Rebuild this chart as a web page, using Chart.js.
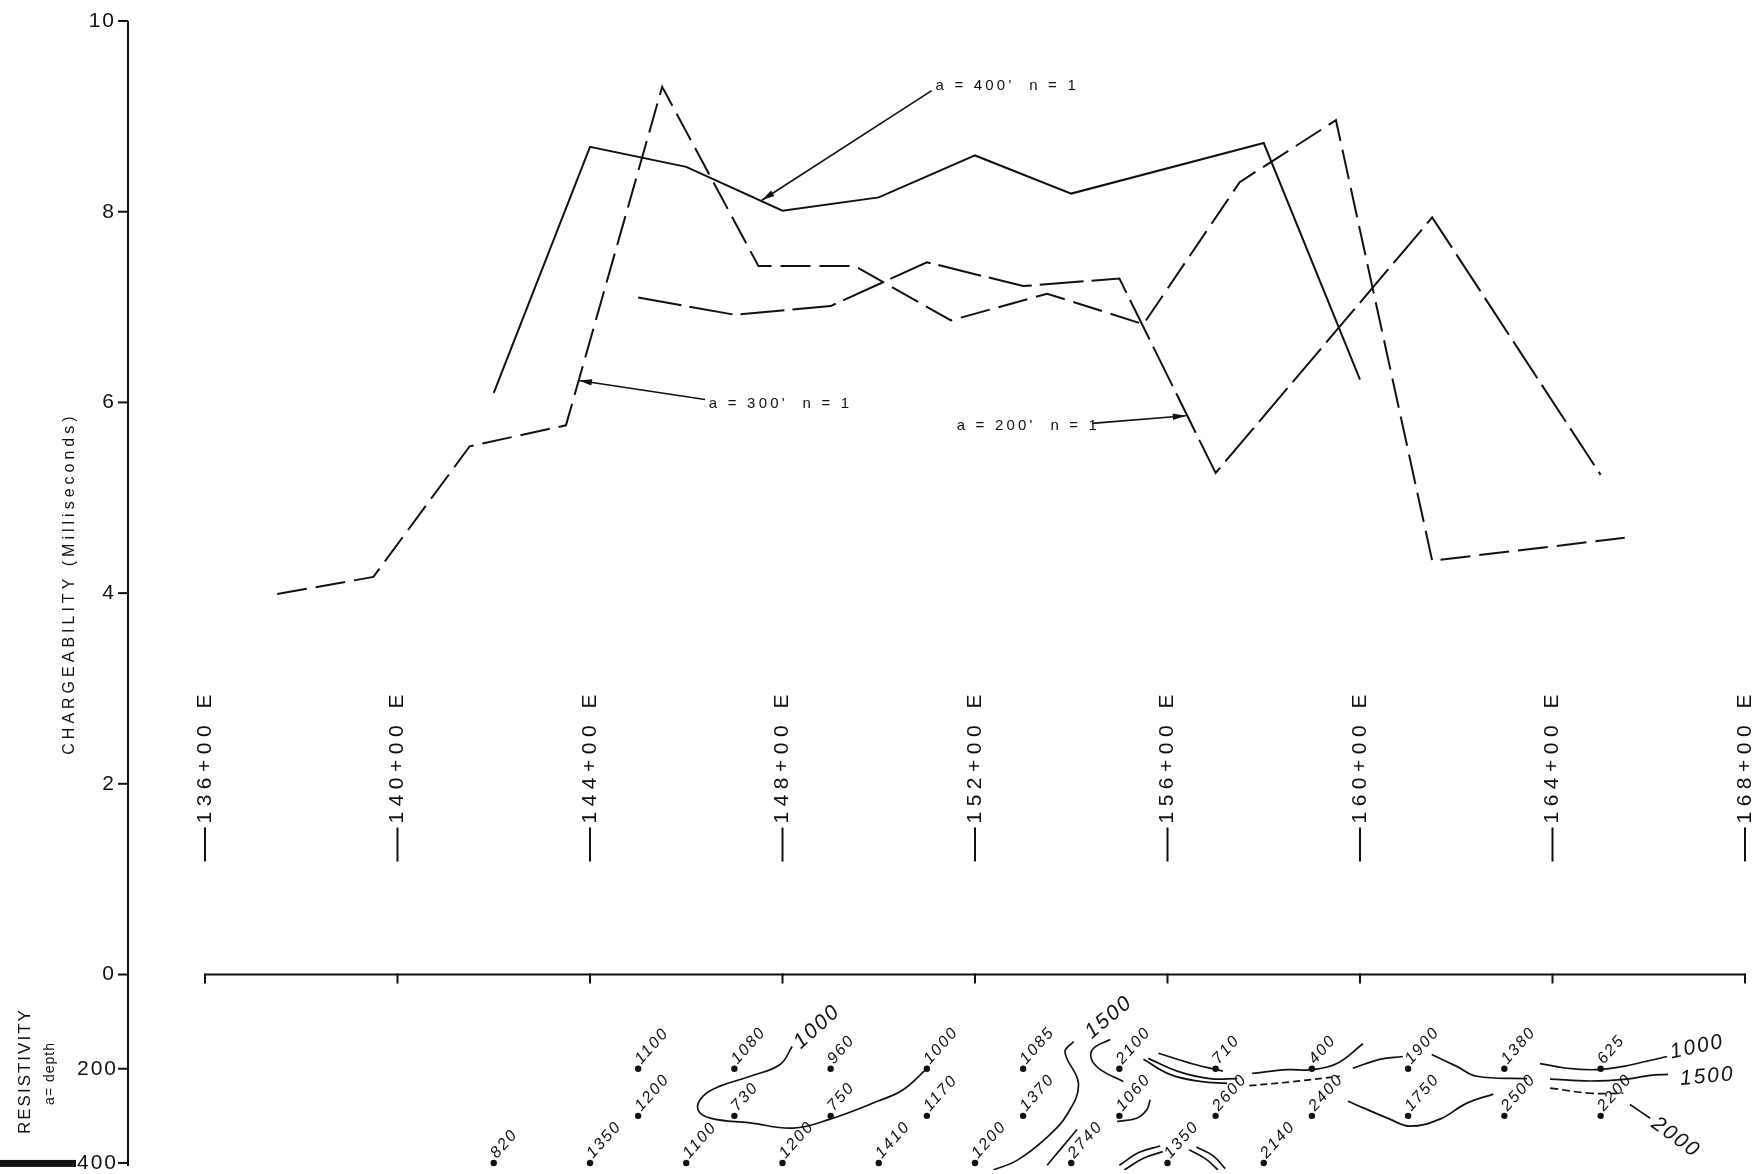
<!DOCTYPE html>
<html>
<head>
<meta charset="utf-8">
<script src="https://cdn.jsdelivr.net/npm/chart.js@4.4.1/dist/chart.umd.min.js"></script>
<style>
  html, body { margin: 0; padding: 0; background: #ffffff; }
  #wrap { position: relative; width: 1755px; height: 1174px; }
</style>
</head>
<body>
<div id="wrap"><canvas id="c" width="1755" height="1174"></canvas></div>
<script>
// ---- Profile stations (hundreds of feet east) and axis ticks ----
const stationTicks = [136, 140, 144, 148, 152, 156, 160, 164, 168];
const chargeTicks = [0, 2, 4, 6, 8, 10];
const depthTicks = [0, 200, 400];

// ---- Chargeability (milliseconds), dipole spacing a, n = 1 ----
const a400Stations = [142, 144, 146, 148, 150, 152, 154, 158, 160];
const a400Values   = [6.10, 8.68, 8.47, 8.01, 8.15, 8.59, 8.19, 8.72, 6.24];

const a300Stations = [137.5, 139.5, 141.5, 143.5, 145.5, 147.5, 149.5, 151.5, 153.5, 155.5, 157.5, 159.5, 161.5, 165.5];
const a300Values   = [3.99, 4.17, 5.54, 5.76, 9.31, 7.43, 7.43, 6.86, 7.14, 6.82, 8.31, 8.96, 4.34, 4.58];

const a200Stations = [145, 147, 149, 151, 153, 155, 157, 161.5, 165];
const a200Values   = [7.10, 6.92, 7.01, 7.47, 7.22, 7.30, 5.26, 7.94, 5.24];

// ---- Apparent resistivity, plotted at depth = a ----
const res200Stations = [145, 147, 149, 151, 153, 155, 157, 159, 161, 163, 165];
const res200Values   = [1100, 1080, 960, 1000, 1085, 2100, 710, 400, 1900, 1380, 625];
const res300Stations = [145, 147, 149, 151, 153, 155, 157, 159, 161, 163, 165];
const res300Values   = [1200, 730, 750, 1170, 1370, 1060, 2600, 2400, 1750, 2500, 2200];
const res400Stations = [142, 144, 146, 148, 150, 152, 154, 156, 158];
const res400Values   = [820, 1350, 1100, 1200, 1410, 1200, 2740, 1350, 2140];

// ---- Resistivity contours, [station, depth] ----
const contourWest1000 = [[148.2,153],[147.95,191],[147.33,216],[146.7,237],[146.35,258],[146.24,286],[146.5,305],[147.33,315],[148.22,326],[148.99,307],[150.0,268],[150.5,245],[151.0,200]];
const contourWest1500 = [[154.05,142],[153.87,165],[154.15,232],[153.92,296],[153.5,345],[152.88,394],[152.38,415]];
const contourArc2100  = [[154.81,138],[154.46,157],[154.42,180],[154.62,203],[155.08,227]];
const contourArc1060  = [[155.64,266],[155.57,287],[155.36,305],[154.95,312]];
const contour2740     = [[153.5,405],[153.8,368],[154.12,329]];
const contourNorthA   = [[155.81,167],[156.53,190],[157.15,205]];
const contourNorthB   = [[155.6,178],[156.2,205],[156.88,221],[157.45,221]];
const contourNorthC   = [[155.5,180],[156.05,212],[156.68,227],[157.24,231]];
const contour400      = [[157.76,210],[158.5,202],[159.0,202],[159.52,189],[160.06,147]];
const contour2400     = [[157.7,236],[158.55,228],[159.58,216]];
const contour1750     = [[159.75,269],[160.62,307],[161.04,322],[161.66,307],[162.22,273],[162.77,254]];
const contour1900West = [[159.85,199],[160.41,180],[160.89,174]];
const contour1900East = [[161.49,170],[162.01,195],[162.43,216],[163.47,221]];
const contourEast1000 = [[163.74,189],[164.3,199],[164.92,202],[165.47,195],[166.38,174]];
const contourEast1500 = [[163.95,222],[164.78,226],[165.55,222],[166.03,214],[166.4,212]];
const contourEast1500b= [[163.95,241],[164.78,252],[165.47,252]];
const contourEast2000 = [[165.61,276],[166.03,305]];
const contour1350WestA= [[155.0,405],[155.4,378],[155.85,364]];
const contour1350WestB= [[155.1,415],[155.5,390],[155.9,376]];
const contour1350EastA= [[156.45,372],[156.8,392],[157.05,415]];
const contour1350EastB= [[156.6,366],[156.95,385],[157.2,412]];

// contour values written on the section: text, station, depth, angle (deg)
const contourLabelText     = ['1000', '1500', '1000', '1500', '2000'];
const contourLabelStations = [148.3, 154.35, 166.45, 166.65, 166.1];
const contourLabelDepths   = [150, 128, 166, 222, 312];
const contourLabelAngles   = [-42, -40, -12, -5, 36];

// ---- Series call-outs: text anchor, arrow start, arrow tip (station, ms) ----
const calloutText     = ["a = 400'  n = 1", "a = 300'  n = 1", "a = 200'  n = 1"];
const calloutTextAt   = [[151.18, 9.32], [146.47, 5.99], [151.62, 5.75]];
const calloutFrom     = [[151.1, 9.27], [146.39, 6.03], [154.43, 5.78]];
const calloutTip      = [[147.57, 8.12], [143.77, 6.23], [156.38, 5.86]];

// ---- Frame constants ----
const INK = '#111111';
const Y_MAX = 10, Y_MIN = -2.05;
const DEPTH_BOTTOM = 415;
const DEPTH_TOP = DEPTH_BOTTOM * Y_MAX / Y_MIN;   // aligns depth 0 with chargeability 0
const LETTER = '"Liberation Sans", Arial, sans-serif';

const pts = (xs, ys) => xs.map((s, i) => ({ x: s, y: ys[i] }));
const pairs = arr => arr.map(p => ({ x: p[0], y: p[1] }));

const profile = (label, xs, ys, dash) => ({
  label, data: pts(xs, ys), yAxisID: 'y',
  borderColor: INK, borderWidth: 2, borderDash: dash,
  pointRadius: 0, tension: 0, fill: false
});
const contour = (arr, dash) => ({
  data: pairs(arr), yAxisID: 'yd',
  borderColor: INK, borderWidth: 1.7, borderDash: dash || [],
  pointRadius: 0, tension: 0.4, fill: false
});
const dots = (xs, vals, depth) => ({
  data: xs.map(s => ({ x: s, y: depth })), values: vals, yAxisID: 'yd',
  showLine: false, pointRadius: 3.2, pointBackgroundColor: INK, pointBorderWidth: 0,
  isResistivity: true
});

const datasets = [
  profile("a=400' n=1", a400Stations, a400Values, []),
  profile("a=300' n=1", a300Stations, a300Values, [30, 9]),
  profile("a=200' n=1", a200Stations, a200Values, [44, 8]),
  contour(contourWest1000), contour(contourWest1500), contour(contourArc2100),
  contour(contourArc1060), contour(contour2740), contour(contourNorthA),
  contour(contourNorthB), contour(contourNorthC), contour(contour400),
  contour(contour2400, [7, 4]), contour(contour1750), contour(contour1900West),
  contour(contour1900East), contour(contourEast1000), contour(contourEast1500),
  contour(contourEast1500b, [8, 4]), contour(contourEast2000),
  contour(contour1350WestA), contour(contour1350WestB),
  contour(contour1350EastA), contour(contour1350EastB),
  dots(res200Stations, res200Values, 200),
  dots(res300Stations, res300Values, 300),
  dots(res400Stations, res400Values, 400)
];

function drawText(ctx, str, x, y, o) {
  ctx.save();
  ctx.translate(x, y);
  if (o.angle) ctx.rotate(o.angle * Math.PI / 180);
  ctx.font = o.font;
  ctx.fillStyle = INK;
  ctx.textAlign = o.align || 'left';
  ctx.textBaseline = o.baseline || 'middle';
  ctx.letterSpacing = (o.spacing || 0) + 'px';
  ctx.fillText(str, 0, 0);
  ctx.restore();
}
function seg(ctx, x1, y1, x2, y2) {
  ctx.beginPath(); ctx.moveTo(x1, y1); ctx.lineTo(x2, y2); ctx.stroke();
}

const framePlugin = {
  id: 'frame',
  beforeDatasetsDraw(chart) {
    const { ctx, scales: { x, y, yd } } = chart;
    const y0 = y.getPixelForValue(0);
    const axisX = x.getPixelForValue(136) - 77;
    ctx.save();
    ctx.strokeStyle = INK; ctx.lineWidth = 2;

    // left axis: chargeability above, depth below
    seg(ctx, axisX, y.getPixelForValue(Y_MAX), axisX, yd.getPixelForValue(400) + 3);
    chargeTicks.forEach(v => {
      const py = y.getPixelForValue(v);
      seg(ctx, axisX - 10, py, axisX, py);
      drawText(ctx, String(v), axisX - 12, py, { font: '21px ' + LETTER, align: 'right', spacing: 2 });
    });
    depthTicks.forEach(d => {
      if (d === 0) return;
      const py = yd.getPixelForValue(d);
      seg(ctx, axisX - 10, py, axisX, py);
      drawText(ctx, String(d), axisX - 10, py, { font: '21px ' + LETTER, align: 'right', spacing: 2 });
    });

    // station base line with tick marks
    const xl = x.getPixelForValue(stationTicks[0]);
    const xr = x.getPixelForValue(stationTicks[stationTicks.length - 1]);
    seg(ctx, xl, y0, xr, y0);
    stationTicks.forEach(s => {
      const px = x.getPixelForValue(s);
      seg(ctx, px, y0 - 1, px, y0 + 9);
      // station label with its leading dash
      seg(ctx, px, y0 - 147, px, y0 - 113);
      drawText(ctx, s + '+00 E', px, y0 - 151, { font: '21px ' + LETTER, angle: -90, spacing: 5.5 });
    });

    // axis titles
    drawText(ctx, 'CHARGEABILITY (Milliseconds)', 70, y.getPixelForValue(4.1),
      { font: '16px ' + LETTER, angle: -90, align: 'center', spacing: 4 });
    drawText(ctx, 'RESISTIVITY', 25, yd.getPixelForValue(205),
      { font: '17px ' + LETTER, angle: -90, align: 'center', spacing: 2 });
    drawText(ctx, 'a= depth', 50, yd.getPixelForValue(210),
      { font: '14px ' + LETTER, angle: -90, align: 'center', spacing: 1 });

    // registration bar at the lower left edge
    ctx.fillStyle = INK;
    ctx.fillRect(0, yd.getPixelForValue(400) - 3, 76, 7);
    ctx.restore();
  },
  afterDatasetsDraw(chart) {
    const { ctx, scales: { x, y, yd } } = chart;
    ctx.save();
    ctx.strokeStyle = INK; ctx.fillStyle = INK; ctx.lineWidth = 1.6;

    // series call-outs with arrows
    calloutText.forEach((t, i) => {
      const tx = x.getPixelForValue(calloutTextAt[i][0]);
      const ty = y.getPixelForValue(calloutTextAt[i][1]);
      drawText(ctx, t, tx, ty, { font: '15px ' + LETTER, spacing: 3.2 });
      const fx = x.getPixelForValue(calloutFrom[i][0]), fy = y.getPixelForValue(calloutFrom[i][1]);
      const px = x.getPixelForValue(calloutTip[i][0]), py = y.getPixelForValue(calloutTip[i][1]);
      seg(ctx, fx, fy, px, py);
      const ang = Math.atan2(py - fy, px - fx);
      ctx.beginPath();
      ctx.moveTo(px, py);
      ctx.lineTo(px - 13 * Math.cos(ang) + 3.2 * Math.sin(ang), py - 13 * Math.sin(ang) - 3.2 * Math.cos(ang));
      ctx.lineTo(px - 13 * Math.cos(ang) - 3.2 * Math.sin(ang), py - 13 * Math.sin(ang) + 3.2 * Math.cos(ang));
      ctx.closePath(); ctx.fill();
    });

    // resistivity values beside their points
    chart.data.datasets.forEach(ds => {
      if (!ds.isResistivity) return;
      ds.data.forEach((p, i) => {
        const px = x.getPixelForValue(p.x), py = yd.getPixelForValue(p.y);
        drawText(ctx, String(ds.values[i]), px + 3, py - 4,
          { font: 'italic 16px ' + LETTER, angle: -48, spacing: 2, baseline: 'alphabetic' });
      });
    });

    // contour values
    contourLabelText.forEach((t, i) => {
      drawText(ctx, t, x.getPixelForValue(contourLabelStations[i]), yd.getPixelForValue(contourLabelDepths[i]),
        { font: 'italic 21px ' + LETTER, angle: contourLabelAngles[i], spacing: 2 });
    });
    ctx.restore();
  }
};

new Chart(document.getElementById('c'), {
  type: 'line',
  data: { datasets },
  options: {
    responsive: false,
    animation: false,
    devicePixelRatio: 1,
    layout: { padding: { left: 205, right: 10, top: 21, bottom: 0 } },
    plugins: { legend: { display: false }, tooltip: { enabled: false } },
    scales: {
      x:  { type: 'linear', min: 136, max: 168, display: false },
      y:  { type: 'linear', min: Y_MIN, max: Y_MAX, display: false },
      yd: { type: 'linear', min: DEPTH_TOP, max: DEPTH_BOTTOM, reverse: true, display: false }
    }
  },
  plugins: [framePlugin]
});
</script>
</body>
</html>
